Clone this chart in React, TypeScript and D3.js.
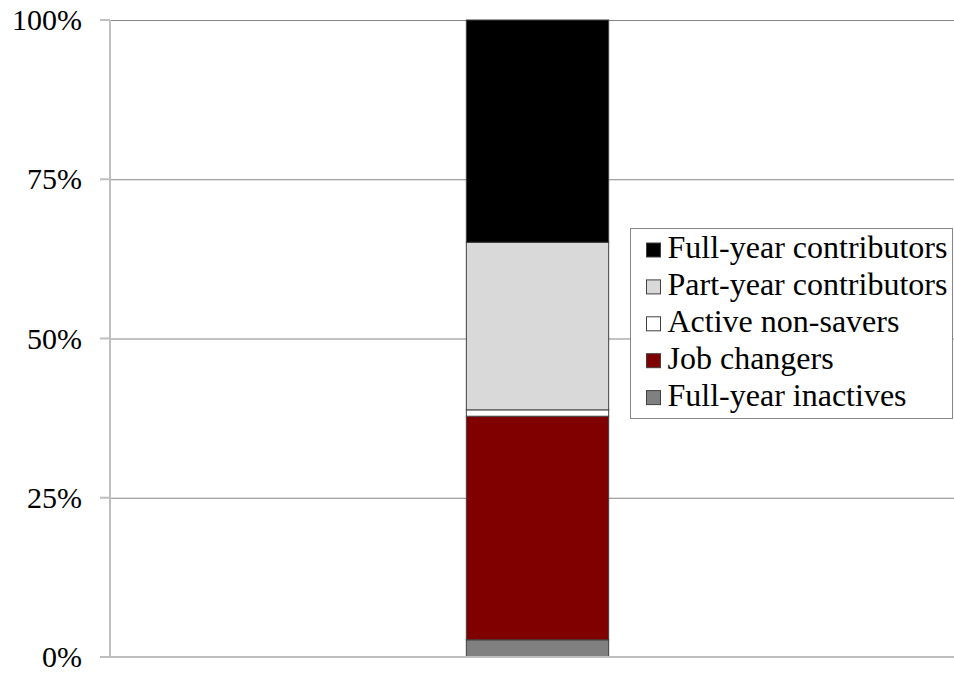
import React from "react";
import * as d3 from "d3";

// series, bottom to top
const seriesNames = [
  "Full-year inactives",
  "Job changers",
  "Active non-savers",
  "Part-year contributors",
  "Full-year contributors",
];
const seriesValues = [2.7, 35.1, 1.0, 26.3, 34.9];
const seriesColors = ["#808080", "#800000", "#ffffff", "#d9d9d9", "#000000"];
const yTicks = [0, 25, 50, 75, 100];
const categories = [""];

const W = 954;
const H = 673;
const FONT = "Liberation Serif";

const margin = { top: 20, right: -10, bottom: 16, left: 110 };

const App = () => {
  const y = d3
    .scaleLinear()
    .domain([0, 100])
    .range([H - margin.bottom, margin.top]);

  const x = d3
    .scaleBand()
    .domain(categories)
    .range([margin.left, W - margin.right])
    .paddingInner(0)
    .paddingOuter(2.5);

  const stack = d3
    .stack<number[]>()
    .keys(seriesValues.map((_, i) => String(i)))
    .value((d, k) => d[+k]);
  const stacked = stack([seriesValues]);

  const rows = seriesNames
    .map((name, i) => ({ name, color: seriesColors[i] }))
    .reverse();

  return (
    <svg
      width={W}
      height={H}
      style={{ position: "absolute", left: 0, top: 0, background: "#fff" }}
    >
      {/* gridlines */}
      {yTicks
        .filter((t) => t > 0)
        .map((t) => (
          <line
            key={t}
            x1={margin.left}
            x2={W}
            y1={y(t) + 0.5}
            y2={y(t) + 0.5}
            stroke="#868686"
            strokeWidth={1}
          />
        ))}

      {/* y axis */}
      <line
        x1={margin.left}
        x2={margin.left}
        y1={y(100)}
        y2={y(0)}
        stroke="#bfbfbf"
        strokeWidth={2}
      />
      {yTicks.map((t) => (
        <g key={t}>
          <line
            x1={margin.left - 10}
            x2={margin.left}
            y1={y(t)}
            y2={y(t)}
            stroke="#bfbfbf"
            strokeWidth={2}
          />
          <text
            x={margin.left - 28}
            y={y(t)}
            dy="0.34em"
            textAnchor="end"
            style={{ fontFamily: FONT, fontSize: 30 }}
            fill="#000"
          >
            {`${t}%`}
          </text>
        </g>
      ))}

      {/* stacked bar */}
      {stacked.map((s, i) => (
        <rect
          key={i}
          x={x("")! + 0.5}
          width={x.bandwidth()}
          y={y(s[0][1])}
          height={y(s[0][0]) - y(s[0][1])}
          fill={seriesColors[i]}
          stroke="#404040"
          strokeWidth={1}
        />
      ))}

      {/* baseline */}
      <line
        x1={margin.left - 10}
        x2={W}
        y1={y(0)}
        y2={y(0)}
        stroke="#bfbfbf"
        strokeWidth={2}
      />

      {/* legend */}
      <g transform="translate(630.5,228.5)">
        <rect width={322} height={190} fill="#fff" stroke="#868686" />
        {rows.map((r, i) => (
          <g key={r.name} transform={`translate(16,${14.5 + i * 36.9})`}>
            <rect width={14} height={14} fill={r.color} stroke="#404040" />
            <text
              x={21}
              y={15}
              style={{ fontFamily: FONT, fontSize: 32 }}
              fill="#000"
            >
              {r.name}
            </text>
          </g>
        ))}
      </g>
    </svg>
  );
};

export default App;
